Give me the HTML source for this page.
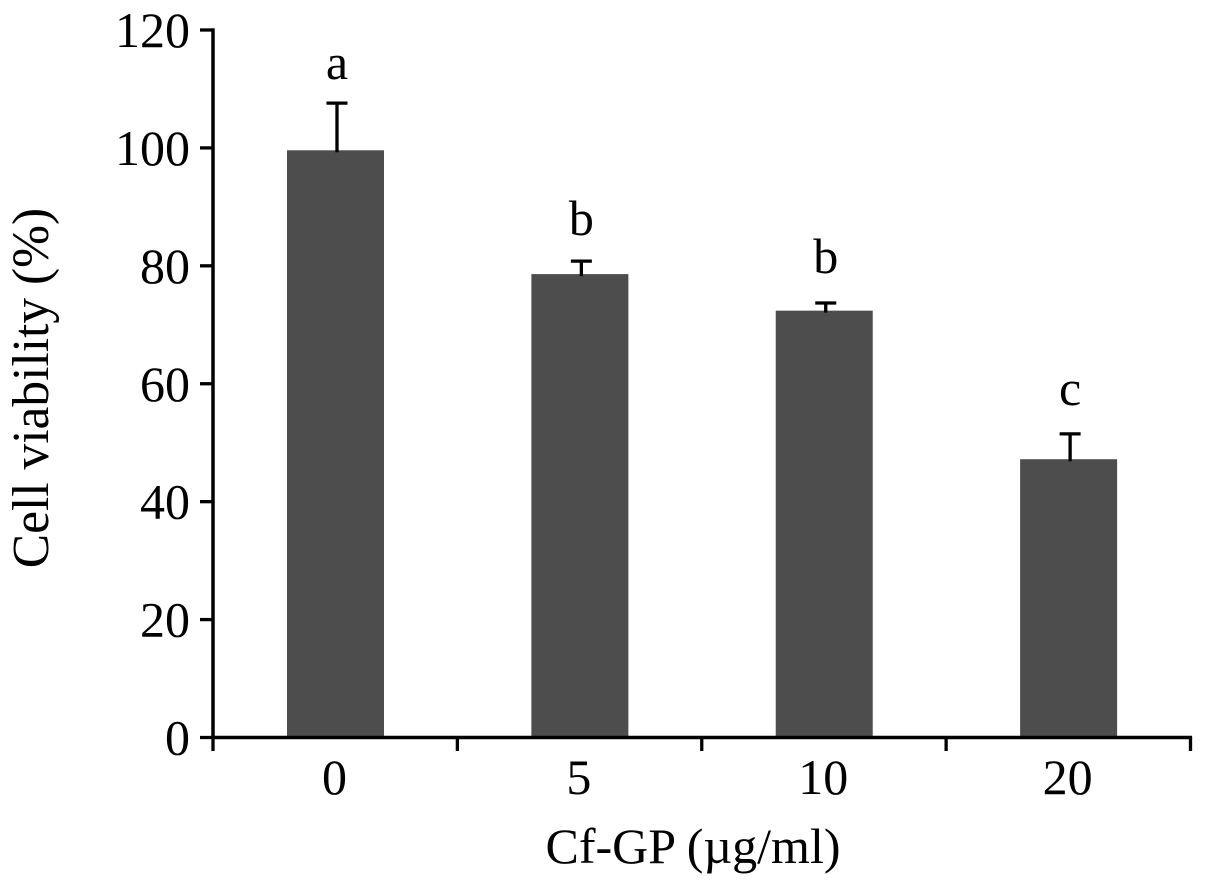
<!DOCTYPE html>
<html>
<head>
<meta charset="utf-8">
<title>Cell viability</title>
<style>
html,body{margin:0;padding:0;background:#fff;width:1205px;height:886px;overflow:hidden}
svg{display:block}
text{font-family:"Liberation Serif",serif;fill:#000}
</style>
</head>
<body>
<svg id="chart" width="1205" height="886" viewBox="0 0 1205 886" xmlns="http://www.w3.org/2000/svg">
<text transform="translate(48,388) rotate(-90)" text-anchor="middle" font-size="51.5">Cell viability (%)</text>
<text x="693" y="863" text-anchor="middle" font-size="50">Cf-GP (µg/ml)</text>
</svg>
<script>
const categories = ['0', '5', '10', '20'];
const viability = [99.6, 78.6, 72.4, 47.2];
const errorTops = [107.6, 80.8, 73.7, 51.5];
const letters = ['a', 'b', 'b', 'c'];
const letterLevels = [111.7, 85.2, 78.8, 56.4];
const yTicks = [0, 20, 40, 60, 80, 100, 120];

const NS = 'http://www.w3.org/2000/svg';
const svg = document.getElementById('chart');
const X0 = 213, X1 = 1190.5, Y0 = 737.5, Y120 = 30;
const yScale = v => Y0 - (v / 120) * (Y0 - Y120);
const band = (X1 - X0) / categories.length;
const xScale = i => X0 + (i + 0.5) * band;

function mk(tag, attrs, txt) {
  const el = document.createElementNS(NS, tag);
  for (const k in attrs) el.setAttribute(k, attrs[k]);
  if (txt !== undefined) el.textContent = txt;
  svg.appendChild(el);
  return el;
}

categories.forEach((c, i) => {
  const cx = xScale(i) + 0.3;
  const top = yScale(viability[i]);
  const bar = mk('rect', {x: cx - 48.5, y: top, width: 97, height: Y0 - top, fill: '#4d4d4d'});
  
  

  const etop = yScale(errorTops[i]);
  const stem = mk('line', {x1: cx + 1.5, x2: cx + 1.5, y1: etop, y2: top + 2, stroke: '#000', 'stroke-width': 3.3});
  
  
  const cap = mk('line', {x1: cx - 9, x2: cx + 12, y1: etop, y2: etop, stroke: '#000', 'stroke-width': 3.2});
  
  

  const sig = mk('text', {x: cx + 1.5, y: yScale(letterLevels[i]), 'text-anchor': 'middle', 'font-size': 50}, letters[i]);
  
  

  const xl = mk('text', {x: cx - 1, y: 794, 'text-anchor': 'middle', 'font-size': 50}, c);
  
  
});

yTicks.forEach(t => {
  const y = yScale(t);
  const tick = mk('line', {x1: 200, x2: 214, y1: y, y2: y, stroke: '#000', 'stroke-width': 3.3});
  
  
  const lab = mk('text', {x: 190, y: y + 17, 'text-anchor': 'end', 'font-size': 50}, String(t));
  
  
});

for (let i = 0; i <= categories.length; i++) {
  const x = X0 + i * band;
  const tick = mk('line', {x1: x, x2: x, y1: Y0, y2: 751, stroke: '#000', 'stroke-width': 3.3});
  
  
}

const yAxis = mk('line', {x1: X0, x2: X0, y1: Y120 - 1.6, y2: Y0, stroke: '#000', 'stroke-width': 3.5});


const xAxis = mk('line', {x1: X0, x2: X1 + 1.6, y1: Y0, y2: Y0, stroke: '#000', 'stroke-width': 3.5});


</script>
</body>
</html>
